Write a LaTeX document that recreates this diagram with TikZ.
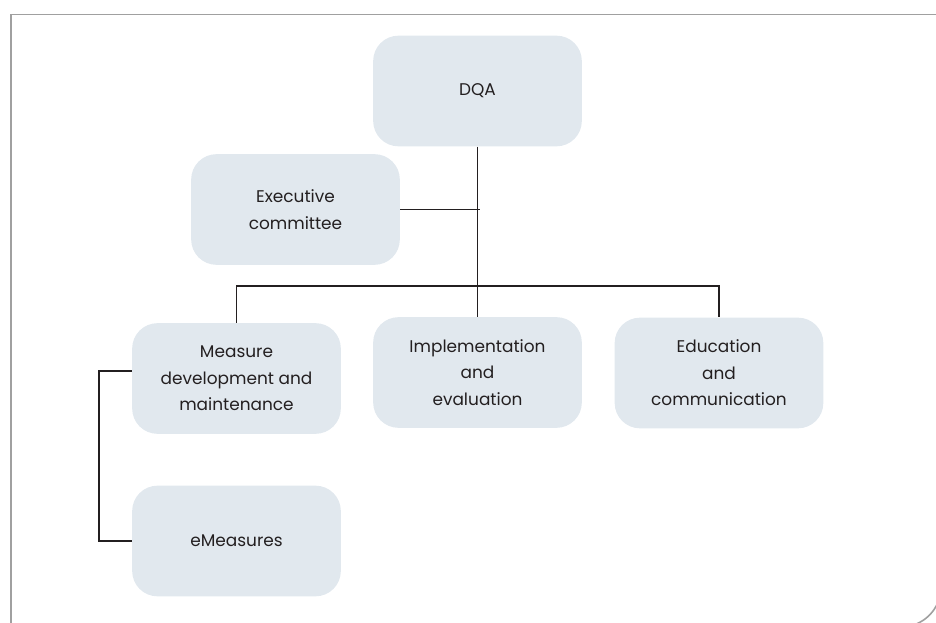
\documentclass[tikz,border=0pt]{standalone}
\usepackage{fontspec}
\setmainfont{Poppins}
\usepackage{tikz}
\usetikzlibrary{positioning,calc}
\definecolor{boxfill}{HTML}{E1E8EE}
\definecolor{framegray}{HTML}{A0A0A0}
\definecolor{textgray}{HTML}{231F20}
\tikzset{
  unit/.style={draw=none,fill=boxfill,rounded corners=19pt,minimum width=156.5pt,
    minimum height=83pt,align=center,text=textgray,
    font=\fontsize{12.7}{19.8}\selectfont},
  link/.style={draw=textgray,line width=0.8pt}
}
\begin{document}
\begin{tikzpicture}[x=0.75pt,y=-0.75pt]
\useasboundingbox (0,0) rectangle (936,623);
\begin{scope}
\clip (0,0) rectangle (936,623);
\draw[framegray,line width=1.2pt] (941,14.5) -- (11,14.5) -- (11,640);
\draw[framegray,line width=1.2pt,rounded corners=30pt] (11,627) -- (941,627) -- (941,14.5);
\end{scope}
\node[unit] (dqa) at (477.5,91) {DQA};
\node[unit] (exec) at (295.5,209.5) {Executive\\committee};
\node[unit] (measure) at (236.5,378.5) {Measure\\development and\\maintenance};
\node[unit] (impl) at (477.5,372.5) {Implementation\\and\\evaluation};
\node[unit] (edu) at (719,373) {Education\\and\\communication};
\node[unit] (emeas) at (236.5,541) {eMeasures};
\coordinate (bus) at (480,286);
\coordinate (elbow) at (99,371);
% tree connectors
\draw[link] (dqa) -- (impl);
\draw[link] (exec.east) -- (exec.east -| bus);
\draw[link] (measure.north) -- (measure.north |- bus) -- (edu.north |- bus) -- (edu.north);
\draw[link] (measure.west |- elbow) -- (elbow) -- (elbow |- emeas.west) -- (emeas.west);
\end{tikzpicture}
\end{document}
